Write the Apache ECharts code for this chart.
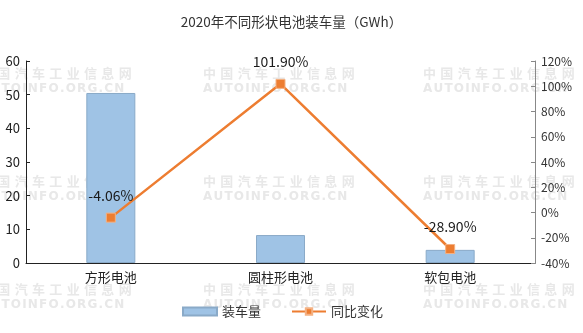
<!DOCTYPE html>
<html><head><meta charset="utf-8">
<script src="https://cdn.jsdelivr.net/npm/echarts@6/dist/echarts.min.js"></script>
<style>html,body{margin:0;padding:0;background:#fff}#c{width:583px;height:333px}</style>
</head><body><div id="c"></div>
<script>
const titleText = '2020年不同形状电池装车量（GWh）';
const categories = ['方形电池', '圆柱形电池', '软包电池'];
const volume = [50.5, 8.3, 3.9];
const yoy = [-4.06, 101.9, -28.9];
const seriesNames = ['装车量', '同比变化'];
const wmCn = '中国汽车工业信息网';
const wmEn = 'AUTOINFO.ORG.CN';

const font = '"Noto Sans CJK SC", "Noto Sans", sans-serif';
const wm = [];
const cols = [-20, 203, 423];
const rows = [75, 183, 291];
rows.forEach(y => cols.forEach(x => {
  wm.push({type:'text', left:x, top:y-8, silent:true, z:-1,
    style:{text:wmCn.split('').join('\u2004'), fill:'#e8e8e8', font:'bold 13px "Noto Sans CJK SC"'}});
  wm.push({type:'text', left:x, top:y+8, silent:true, z:-1,
    style:{text:wmEn.split('').join('\u200A'), fill:'#e8e8e8', font:'bold 12px "DejaVu Sans"'}});
}));

const chart = echarts.init(document.getElementById('c'));
chart.setOption({
  animation:false,
  textStyle:{fontFamily:font},
  title:{text:titleText, left:'center', top:10, textStyle:{fontSize:13.5, fontWeight:'normal', color:'#333'}},
  graphic: wm,
  grid:{left:26, right:48, top:61, bottom:70},
  legend:{bottom:10, left:177, itemGap:30, itemWidth:34, itemHeight:8,
    textStyle:{fontSize:13, color:'#333'},
    data:[{name:seriesNames[0], icon:'rect'}, {name:seriesNames[1]}]},
  xAxis:{type:'category', data:categories,
    axisLine:{lineStyle:{color:'#222'}},
    axisTick:{inside:true, lineStyle:{color:'#222'}, length:4},
    axisLabel:{fontSize:13, color:'#222', margin:8}},
  yAxis:[
    {type:'value', min:0, max:60, interval:10, splitLine:{show:false},
      axisLine:{show:true, lineStyle:{color:'#222'}},
      axisTick:{show:true, inside:true, length:4, lineStyle:{color:'#222'}},
      axisLabel:{fontSize:13, color:'#222', margin:6}},
    {type:'value', min:-40, max:120, interval:20, splitLine:{show:false},
      axisLine:{show:true, lineStyle:{color:'#888'}},
      axisTick:{show:true, inside:true, length:4, lineStyle:{color:'#888'}},
      axisLabel:{fontSize:12, color:'#333', margin:6, formatter:'{value}%'}}
  ],
  series:[
    {name:seriesNames[0], type:'bar', data:volume, barWidth:49,
      itemStyle:{color:'#9FC3E5', borderColor:'#8AAAC8', borderWidth:1}},
    {name:seriesNames[1], type:'line', yAxisIndex:1, data:yoy,
      symbol:'rect', symbolSize:9,
      lineStyle:{color:'#ED7D31', width:2.5},
      itemStyle:{color:'#ED7D31', borderColor:'#F4B183', borderWidth:1},
      label:{show:true, position:'top', distance:10, fontSize:14, color:'#1a1a1a',
        formatter:p => p.value.toFixed(2) + '%'}}
  ]
});
</script></body></html>
